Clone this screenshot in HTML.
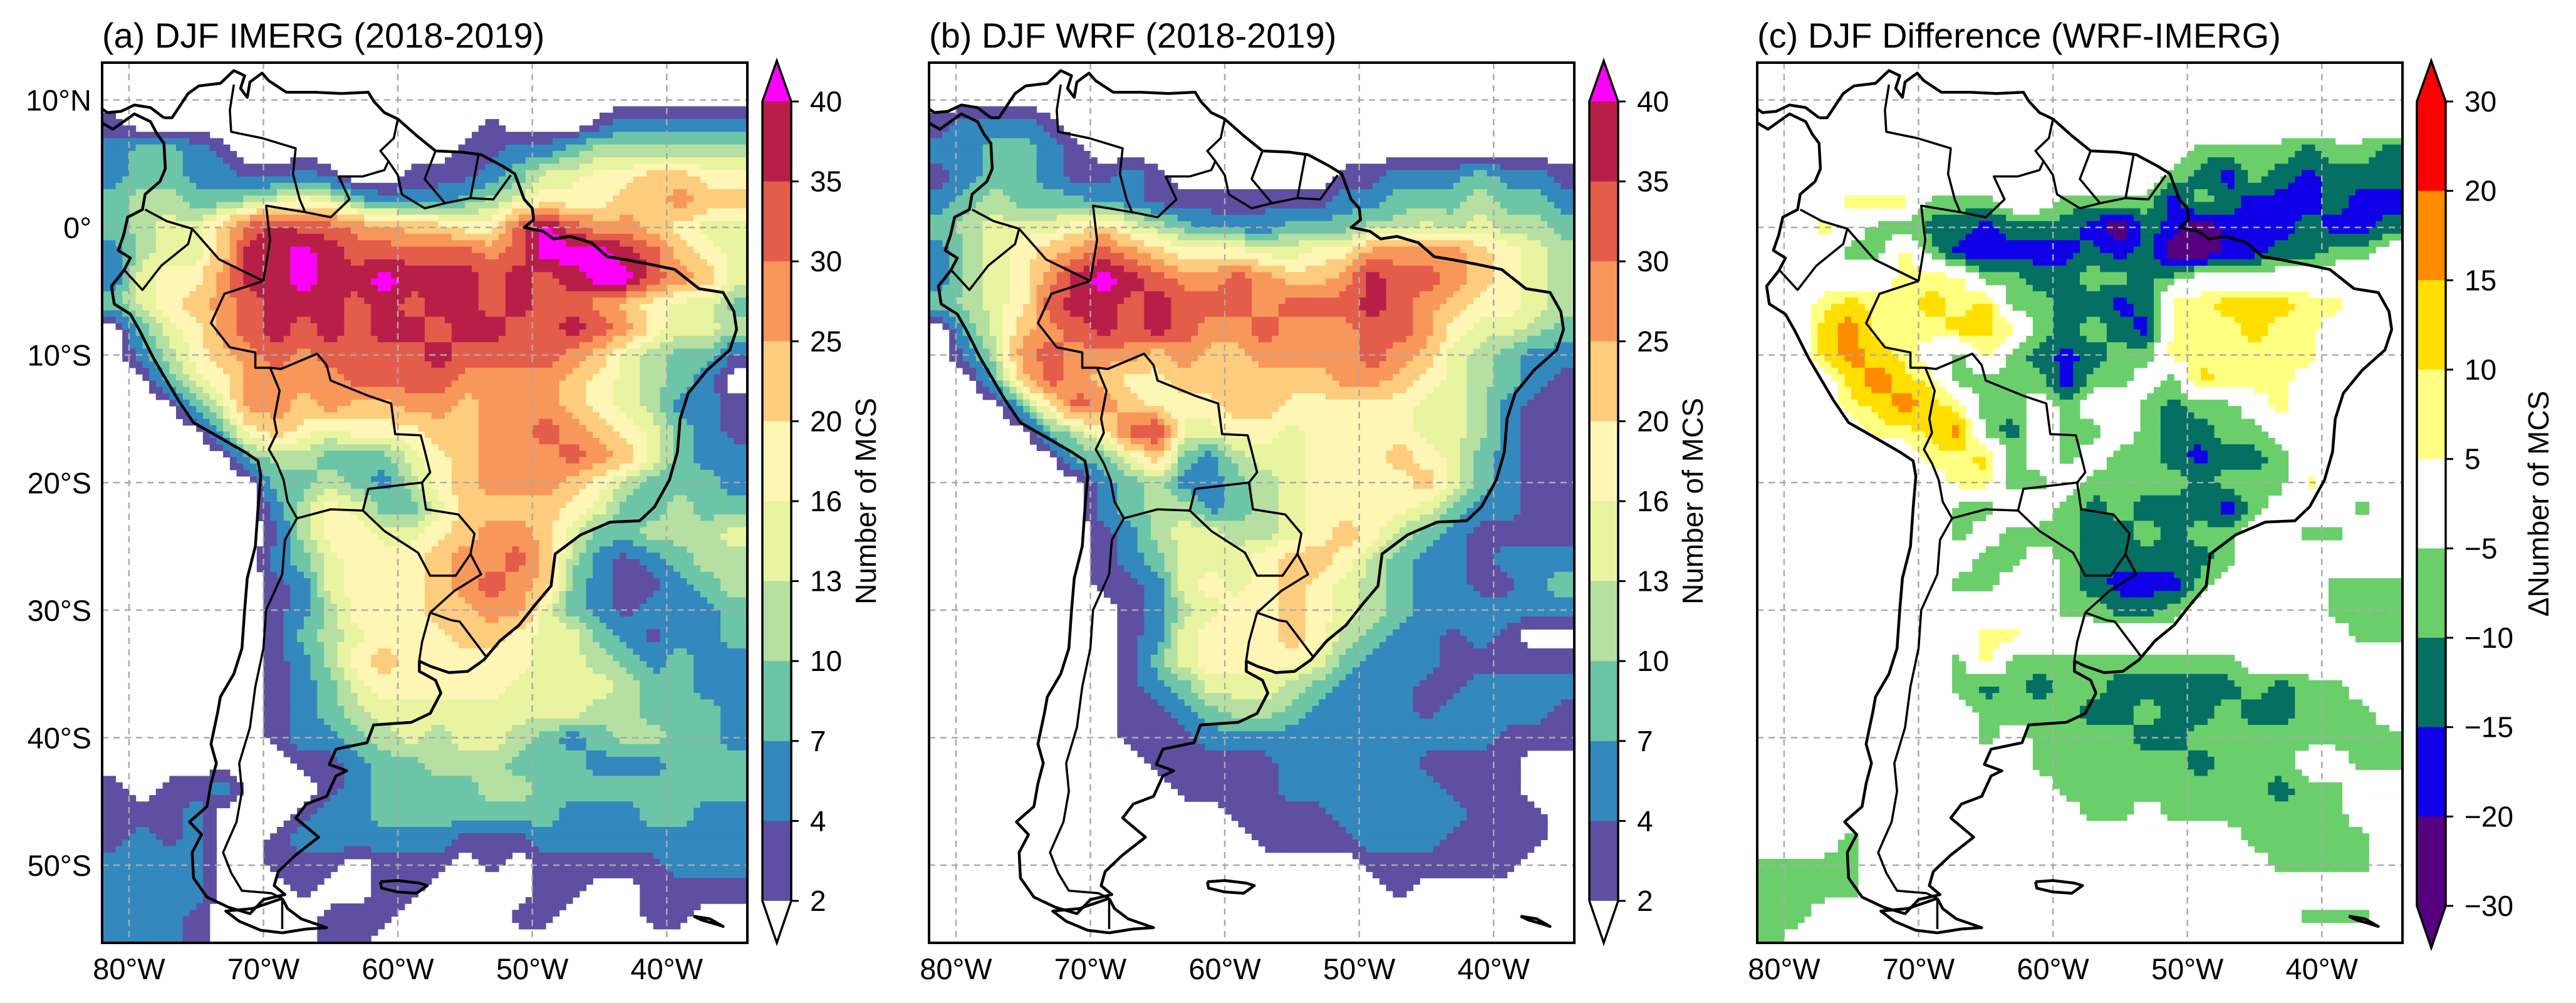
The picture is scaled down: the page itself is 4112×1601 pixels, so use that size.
<!DOCTYPE html>
<html><head><meta charset="utf-8">
<style>
html,body{margin:0;padding:0;background:#fff;}
svg{display:block;font-family:"Liberation Sans",Arial,sans-serif;}
</style></head>
<body>
<svg id="fig" width="4112" height="1601" viewBox="0 0 4112 1601" xmlns="http://www.w3.org/2000/svg">
<rect width="4112" height="1601" fill="#fff"/>
<defs>
<clipPath id="clipA"><rect x="163" y="100" width="1030" height="1405"/></clipPath>
<clipPath id="clipB"><rect x="1483" y="100" width="1030" height="1405"/></clipPath>
<clipPath id="clipC"><rect x="2805" y="100" width="1030" height="1405"/></clipPath>
</defs>
</svg>
<script>
// ---- data: 2-degree grid, rows from lat 12 (top) down to -56, cols lon -81..-35 ----
const gridLats = [12,10,8,6,4,2,0,-2,-4,-6,-8,-10,-12,-14,-16,-18,-20,-22,-24,-26,-28,-30,-32,-34,-36,-38,-40,-42,-44,-46,-48,-50,-52,-54,-56];
const gridLons = [-81,-79,-77,-75,-73,-71,-69,-67,-65,-63,-61,-59,-57,-55,-53,-51,-49,-47,-45,-43,-41,-39,-37,-35];
const imergRows = [
".... .... .... .... .... ....",
".... .... .... .... .... ....",
"1... .... .... ..1. ..12 2222",
"2332 1... .... .112 2344 4444",
"2332 2112 1..1 1123 5566 7766",
"3443 3456 5322 2345 6667 7877",
"3455 79a9 9887 7669 m988 7655",
"2455 7aam a999 9989 mmma 9765",
"2566 8aam aama aa9a 9amm 9875",
"3567 89aa a9a9 aa9a 9987 6553",
".356 89a9 a9aa 9aa9 9a98 6554",
".246 7898 9999 a999 9875 4331",
"..35 6888 8999 9888 8765 432.",
"...3 5887 8778 8788 8765 4221",
".... 3676 5666 7788 9876 5321",
".... .344 3335 6788 8987 5322",
".... ..33 4324 6788 8764 3332",
".... ..24 6533 5777 7653 3433",
".... ..14 6655 6788 7533 4445",
".... ..23 5666 7889 7421 2344",
".... ..12 5666 7898 7321 1234",
".... ..12 4666 7788 5321 2223",
".... ..13 4566 6776 5532 1223",
".... ..12 4676 6666 5543 2322",
".... ..12 3566 6665 5554 3322",
".... ..12 3455 5555 5544 3332",
".... ..12 2345 4554 3234 4332",
".... ...1 1233 4443 3322 2333",
"1.11 2... 1233 3344 3333 3333",
"1112 ...1 2233 3333 3222 3322",
"1212 ..12 2222 2111 2222 2222",
"2222 ..11 1.11 1.1. 1111 1222",
"2222 ...1 ..11 .... 11.. 1111",
"2221 .... 111. ...1 1... 11..",
"2221 .... 11.. .... .... ...."
];
const wrfRows = [
".... .... .... .... .... ....",
".... .... .... .... .... ....",
"1222 1... .... .... .... ....",
"2233 21.. .... .... .... ....",
"1233 2112 1... ...1 1222 3221",
"2343 3322 1111 1112 2333 4332",
"3455 5675 4322 2333 4454 5443",
"2456 7898 7666 5566 8888 7654",
"2456 8ama 9889 8778 a998 7654",
"3456 9aa9 a999 8999 a987 6654",
".357 89a9 a988 9888 9986 5543",
".248 9888 7877 8888 9875 4322",
"..37 9876 6777 7778 8765 4321",
"...3 6987 6667 7666 6655 4211",
".... 3469 a556 6566 6655 4211",
".... .335 7324 5566 6765 3211",
".... ..23 4223 4566 6675 3211",
".... ..23 4423 4566 6653 2211",
".... ..12 4554 4567 6432 1111",
".... ..12 3555 6776 4322 1222",
".... ..11 2565 6765 4322 1123",
".... ...1 2456 6765 4322 2222",
".... ...1 2566 6764 3221 21..",
".... ...1 3566 6653 2221 1111",
".... ...1 2355 5432 2211 2222",
".... ...1 1234 4322 2212 2221",
".... ...1 1122 2222 2222 2111",
".... .... 1111 1222 2211 11..",
".... .... .111 1222 2221 11..",
".... .... ...1 1112 2222 111.",
".... .... .... 1111 2221 111.",
".... .... .... .... 1111 11..",
".... .... .... .... .1.. ....",
".... .... .... .... .... ....",
".... .... .... .... .... ...."
];
const diffRows = [
".... .... .... .... .... ....",
".... .... .... .... .... ....",
".... .... .... .... .... ....",
".... .... .... .... gggg tggt",
".... .... .... ...g tbgt bttt",
"...y yygg g..g gggb gtbb btbb",
"..y. ggtt bttt bptb pbbb tbbt",
"...g gygb bbbb tbtp pbbt tgg.",
".... .yyy ggtt ggtg .... ....",
"..yY yyYy Yggt tbty yYYY yy..",
"..Yo yyyY Yygt gtby yyYy y...",
"..Yo Yy.g ygtb tggy yyyy y...",
"...Y oYyg gggb gg.g Yyyy ....",
"...y YoYy gg.g ..gt gg.y ....",
".... yyYo gt.g g.gt tgg. ....",
".... ..yy Yg.g .ggt bttg ....",
".... ...y ygg. gggg tggg y...",
".... ...g g..g tgtt tbg. ..g.",
".... ...g .ggg ttgt gg.. gg..",
".... .... gg.g tttt tg.. ....",
".... ...g g..g tbbb g... .ggg",
".... .... ...g gttg .... .ggg",
".... .... yy.. .... .... ..gg",
".... ...g yggg gggg gg.. ....",
".... ...g tgtg gttt ttgt gg..",
".... .... gggg ttgt tgtt ggg.",
".... .... g.gg ggtt gggg gggg",
".... .... ..gg gggg tggg ..gg",
".... .... ...g gggg gggt gg..",
".... .... .... gg.g gggg gg..",
"...g .... .... .... ..gg ggg.",
"gggg .... .... .... ...g ggg.",
"gggg .... .... .... .... ....",
"gg.. .... .... .... .... ggg.",
"g... .... .... .... .... ...."
];
const mcsTicks = ["40","35","30","25","20","16","13","10","7","4","2"];
const diffTicks = ["30","20","15","10","5","\u22125","\u221210","\u221215","\u221220","\u221230"];
const latTicks = [10,0,-10,-20,-30,-40,-50];
const latTickLabels = ["10°N","0°","10°S","20°S","30°S","40°S","50°S"];
const lonTicks = [-80,-70,-60,-50,-40];
const lonTickLabels = ["80°W","70°W","60°W","50°W","40°W"];

// ---- code -> representative value, class boundaries, colours ----
const mcsValue = {".":0.5,"1":3,"2":5.5,"3":8.5,"4":11.5,"5":14.5,"6":18,"7":22.5,"8":27.5,"9":32.5,"a":37.5,"m":43};
const mcsBounds = [2,4,7,10,13,16,20,25,30,35,40];
const mcsClassColors = [null,"#5e4fa2","#3388bd","#6cc5a6","#b5e0a2","#e9f4a1","#fef6b4","#fdcc7d","#f8975a","#e45c4a","#b81f48","#ff00ff"];
const diffValue = {".":0,"y":7.5,"Y":12.5,"o":17.5,"r":25,"g":-7.5,"t":-12.5,"b":-17.5,"p":-25};
const diffBounds = [-20,-15,-10,-5,5,10,15,20];
const diffClassColors = ["#55007e","#1000e8","#056f64","#6acf6a",null,"#ffff80","#ffde00","#ff8c00","#ff0000"];
const mcsBarColors = ["#b81f48","#e45c4a","#f8975a","#fdcc7d","#fef6b4","#e9f4a1","#b5e0a2","#6cc5a6","#3388bd","#5e4fa2"];
const diffBarColors = ["#ff0000","#ff8c00","#ffde00","#ffff80","#ffffff","#6acf6a","#056f64","#1000e8","#55007e"];

const NS = "http://www.w3.org/2000/svg";
const svg = document.getElementById('fig');
const Y0 = 100, H = 1405, W = 1030, SUB = 0.5;
const panels = [
  {x0:163, clip:"clipA", rows:imergRows, val:mcsValue, bounds:mcsBounds, cc:mcsClassColors, title:"(a) DJF IMERG (2018-2019)", key:"imerg"},
  {x0:1483, clip:"clipB", rows:wrfRows, val:mcsValue, bounds:mcsBounds, cc:mcsClassColors, title:"(b) DJF WRF (2018-2019)", key:"wrf"},
  {x0:2805, clip:"clipC", rows:diffRows, val:diffValue, bounds:diffBounds, cc:diffClassColors, title:"(c) DJF Difference (WRF-IMERG)", key:"diff"}
];
function el(tag, attrs, parent){const e=document.createElementNS(NS,tag);for(const k in attrs)e.setAttribute(k,attrs[k]);(parent||svg).appendChild(e);return e;}
function lonX(p,lon){return p.x0 + (lon+82)*W/48;}
function latY(lat){return Y0 + (12.92-lat)*20.36;}
function classify(v,b){let k=0;while(k<b.length&&v>=b[k])k++;return k;}

// ---- geography (approximate outlines) ----
const coast = [[-77.4,8.6],[-76.8,8.6],[-75.6,10.5],[-74.8,11.1],[-73.2,11.3],[-72.2,12.3],[-71.4,11.9],[-71.7,10.9],[-71.2,10.2],[-71.0,11.4],[-70.1,12.1],[-69.6,11.5],[-68.3,10.6],[-66.2,10.6],[-64.2,10.5],[-62.2,10.6],[-61.8,9.9],[-61.0,9.0],[-60.0,8.5],[-58.6,7.2],[-57.2,6.0],[-55.2,5.9],[-53.8,5.7],[-52.2,4.8],[-51.3,4.2],[-50.6,2.2],[-50.0,1.5],[-49.9,0.6],[-50.6,0.0],[-49.2,-0.3],[-48.4,-0.9],[-47.2,-0.7],[-45.6,-1.2],[-44.4,-2.3],[-43.2,-2.5],[-41.2,-2.9],[-39.4,-3.3],[-37.6,-4.8],[-35.8,-5.1],[-35.0,-6.6],[-34.8,-8.0],[-35.3,-9.6],[-37.0,-11.2],[-38.4,-13.0],[-39.0,-15.0],[-39.2,-17.6],[-39.8,-19.8],[-40.9,-21.9],[-42.0,-23.0],[-44.2,-23.1],[-46.4,-24.1],[-48.3,-25.6],[-48.6,-28.1],[-49.8,-29.6],[-51.0,-31.2],[-52.4,-32.4],[-53.6,-33.9],[-54.8,-34.8],[-56.2,-34.9],[-57.6,-34.4],[-58.4,-34.0],[-58.4,-34.8],[-57.2,-35.5],[-56.8,-36.5],[-57.6,-38.1],[-59.0,-38.8],[-61.8,-39.0],[-62.3,-40.4],[-64.6,-40.9],[-65.1,-42.1],[-63.8,-42.6],[-64.6,-43.0],[-65.3,-44.6],[-66.8,-45.2],[-67.6,-46.3],[-65.9,-47.8],[-67.6,-49.2],[-68.9,-50.5],[-69.2,-51.6],[-68.4,-52.3],[-70.0,-52.7],[-71.0,-53.8],[-72.6,-53.3],[-74.2,-52.5],[-75.2,-51.0],[-75.3,-49.0],[-74.6,-47.6],[-75.5,-46.6],[-74.2,-45.4],[-73.9,-43.6],[-73.5,-42.0],[-73.9,-40.5],[-73.4,-38.0],[-73.2,-36.8],[-72.2,-35.0],[-71.6,-33.0],[-71.4,-30.0],[-71.2,-27.5],[-70.6,-25.0],[-70.4,-22.0],[-70.2,-19.5],[-70.4,-18.3],[-71.4,-17.6],[-73.2,-16.5],[-75.2,-15.3],[-76.3,-13.6],[-77.2,-12.0],[-78.2,-10.2],[-79.2,-8.1],[-79.9,-6.8],[-81.1,-6.0],[-81.3,-4.6],[-80.4,-3.4],[-79.9,-2.4],[-80.8,-1.8],[-80.4,-0.6],[-80.1,0.8],[-79.0,1.4],[-78.8,2.6],[-77.7,3.6],[-77.3,4.6],[-77.4,6.6],[-77.9,7.3],[-78.4,8.3],[-79.6,8.9],[-80.4,8.3],[-81.2,7.7],[-82.0,8.2]];
const panamaN = [[-77.4,8.6],[-78.4,9.4],[-79.6,9.6],[-80.6,9.1],[-81.6,9.0],[-82.0,9.3]];
const tierra = [[-68.6,-52.6],[-68.2,-53.4],[-67.2,-54.2],[-65.3,-54.9],[-66.8,-55.0],[-68.6,-55.3],[-70.2,-55.1],[-71.8,-54.4],[-72.8,-53.6],[-70.8,-53.4],[-68.6,-52.6]];
const falk = [[-61.3,-51.3],[-60.0,-51.2],[-58.4,-51.4],[-57.8,-51.6],[-58.6,-52.2],[-60.0,-52.1],[-61.2,-51.8],[-61.3,-51.3]];
const sgeorgia = [[-38.0,-54.0],[-36.8,-54.2],[-35.8,-54.8],[-36.4,-54.6],[-37.4,-54.3],[-38.0,-54.0]];
const borders = [
[[-72.2,11.2],[-72.5,9.2],[-72.4,7.5],[-70.1,7.0],[-67.6,6.2],[-67.8,4.2],[-67.3,2.2],[-66.9,1.2]],
[[-66.9,1.2],[-65.0,0.8],[-63.6,2.2],[-64.4,4.0],[-62.6,4.0],[-61.0,4.5],[-60.7,5.2],[-61.3,6.0],[-60.3,7.0],[-60.0,8.5]],
[[-60.7,5.2],[-60.0,4.1],[-59.7,2.6],[-58.0,1.5],[-56.5,1.9],[-54.6,2.3],[-52.9,2.2],[-51.6,4.1]],
[[-57.2,6.0],[-58.0,3.8],[-56.5,1.9]],[[-54.0,5.7],[-54.6,2.3]],
[[-66.9,1.2],[-69.8,1.7],[-69.5,-1.0],[-70.0,-4.2]],
[[-78.8,1.4],[-77.2,0.5],[-75.3,-0.1],[-73.3,-2.5],[-70.0,-4.2]],
[[-80.3,-3.4],[-79.0,-4.9],[-77.6,-3.0],[-75.6,-1.3],[-75.3,-0.1]],
[[-70.0,-4.2],[-72.9,-5.2],[-73.9,-7.5],[-72.5,-9.4],[-70.6,-9.8],[-70.6,-11.0],[-69.5,-11.0]],
[[-69.5,-11.0],[-68.7,-11.1],[-66.0,-9.9],[-65.3,-10.8],[-65.0,-12.0],[-62.2,-13.2],[-60.5,-13.8],[-60.2,-16.2],[-58.3,-16.3],[-58.0,-17.5],[-57.6,-19.2],[-58.2,-20.0]],
[[-69.5,-11.0],[-68.8,-12.8],[-69.2,-15.0],[-69.0,-16.1],[-69.6,-17.4],[-69.0,-18.5],[-68.5,-19.8],[-68.2,-21.5],[-67.5,-22.8]],
[[-58.2,-20.0],[-62.2,-20.5],[-62.6,-22.2],[-65.0,-22.1],[-67.5,-22.8]],
[[-67.5,-22.8],[-68.4,-24.5],[-68.6,-27.2],[-69.8,-30.0],[-70.0,-33.0],[-70.6,-36.0],[-71.0,-39.2],[-71.8,-42.0],[-71.6,-44.2],[-72.0,-46.6],[-73.0,-49.0],[-72.4,-50.6],[-71.6,-52.0],[-69.4,-52.2],[-68.6,-52.6]],
[[-62.6,-22.2],[-61.0,-23.8],[-58.5,-25.5],[-57.6,-27.3],[-55.7,-27.3],[-54.6,-25.6]],
[[-54.6,-25.6],[-54.3,-24.0],[-55.5,-22.5],[-57.9,-22.1],[-58.2,-20.0]],
[[-54.6,-25.6],[-53.8,-27.2],[-55.8,-28.5],[-57.6,-30.2]],
[[-57.6,-30.2],[-56.0,-30.8],[-55.4,-30.9],[-53.4,-33.7]],
[[-57.6,-30.2],[-58.2,-32.5],[-58.4,-33.9]],
[[-68.6,-52.6],[-68.6,-55.0]]
];
function pts(p,arr){return arr.map(a=>lonX(p,a[0]).toFixed(1)+","+latY(a[1]).toFixed(1)).join(" ");}

panels.forEach((p,pi)=>{
  const g = el('g',{'clip-path':'url(#'+p.clip+')'});
  
  
  // numeric grid from data rows
  const grid = p.rows.map(r=>r.replace(/ /g,'').split('').map(ch=>p.val[ch]));
  const nr=grid.length, nc=gridLons.length;
  function sample(lat,lon){
    let fr=(gridLats[0]-lat)/2, fc=(lon-gridLons[0])/2;
    fr=Math.max(0,Math.min(nr-1,fr)); fc=Math.max(0,Math.min(nc-1,fc));
    const r0=Math.floor(fr), c0=Math.floor(fc), r1=Math.min(nr-1,r0+1), c1=Math.min(nc-1,c0+1);
    const dr=fr-r0, dc=fc-c0;
    return grid[r0][c0]*(1-dr)*(1-dc)+grid[r0][c1]*(1-dr)*dc+grid[r1][c0]*dr*(1-dc)+grid[r1][c1]*dr*dc;
  }
  for(let lat=13; lat>-57; lat-=SUB){
    const latc=lat-SUB/2;
    let runStart=null, runCls=null;
    const flush=(endLon)=>{
      if(runCls!==null && p.cc[runCls]){
        const x1=lonX(p,runStart), x2=lonX(p,endLon), y1=latY(lat), y2=latY(lat-SUB);
        const r=el('rect',{x:x1.toFixed(1),y:y1.toFixed(1),width:(x2-x1+0.6).toFixed(1),height:(y2-y1+0.6).toFixed(1),fill:p.cc[runCls]},g);
        
        
      }
    };
    for(let lon=-82; lon<-34; lon+=SUB){
      const cls=classify(sample(latc,lon+SUB/2),p.bounds);
      if(cls!==runCls){flush(lon);runStart=lon;runCls=cls;}
    }
    flush(-34);
  }
  // gridlines
  lonTicks.forEach(lon=>{
    const l=el('line',{x1:lonX(p,lon),x2:lonX(p,lon),y1:Y0,y2:Y0+H,stroke:'#aaa','stroke-width':2.5,'stroke-dasharray':'10,8'},g);
    
    
  });
  latTicks.forEach(lat=>{
    const l=el('line',{x1:p.x0,x2:p.x0+W,y1:latY(lat),y2:latY(lat),stroke:'#aaa','stroke-width':2.5,'stroke-dasharray':'10,8'},g);
    
    
  });
  // coastlines
  const c1=el('polyline',{points:pts(p,coast),fill:'none',stroke:'#000','stroke-width':4.5,'stroke-linejoin':'round'},g);
  
  
  [panamaN,tierra,falk,sgeorgia].forEach(a=>{
    const c=el('polyline',{points:pts(p,a),fill:'none',stroke:'#000','stroke-width':4.5,'stroke-linejoin':'round'},g);
    
    
  });
  borders.forEach(b=>{
    const c=el('polyline',{points:pts(p,b),fill:'none',stroke:'#000','stroke-width':3.5,'stroke-linejoin':'round'},g);
    
    
  });
  // frame
  const fr=el('rect',{x:p.x0,y:Y0,width:W,height:H,fill:'none',stroke:'#000','stroke-width':4});
  
  
  // title
  const t=el('text',{x:p.x0,y:76,'font-size':56,fill:'#000'});
  t.textContent=p.title;
  
  
  // lon tick labels
  lonTicks.forEach((lon,i)=>{
    const tx=el('text',{x:lonX(p,lon),y:1563,'font-size':47,'text-anchor':'middle',fill:'#000'});
    tx.textContent=lonTickLabels[i];
    
    
  });
  if(pi===0){
    latTicks.forEach((lat,i)=>{
      const tx=el('text',{x:146,y:latY(lat)+17,'font-size':47,'text-anchor':'end',fill:'#000'});
      tx.textContent=latTickLabels[i];
      
      
    });
  }
});

// ---- colorbars ----
function colorbar(cx, top, bottom, tipTop, tipBot, colors, ticks, topCol, botCol, label, key, labelX){
  const n=colors.length, bh=(bottom-top)/n, x1=cx, x2=cx+46, mid=cx+23;
  const g=el('g',{});
  
  
  colors.forEach((c,i)=>{
    const r=el('rect',{x:x1,y:top+i*bh,width:46,height:bh+0.5,fill:c},g);
    
    
  });
  const tt=el('polygon',{points:`${x1},${top} ${mid},${tipTop} ${x2},${top}`,fill:topCol},g);
  
  
  const tb=el('polygon',{points:`${x1},${bottom} ${mid},${tipBot} ${x2},${bottom}`,fill:botCol},g);
  
  
  el('polygon',{points:`${x1},${top} ${mid},${tipTop} ${x2},${top} ${x2},${bottom} ${mid},${tipBot} ${x1},${bottom}`,fill:'none',stroke:'#000','stroke-width':3.5},g);
  ticks.forEach((tk,i)=>{
    const y=top+i*bh;
    el('line',{x1:x2,x2:x2+12,y1:y,y2:y,stroke:'#000','stroke-width':3},g);
    const tx=el('text',{x:x2+30,y:y+16,'font-size':46,fill:'#000'},g);
    tx.textContent=tk;
    
    
  });
  const cy=(top+bottom)/2;
  const lb=el('text',{x:labelX,y:cy,'font-size':46,'text-anchor':'middle',transform:`rotate(-90 ${labelX} ${cy})`,fill:'#000'},g);
  lb.textContent=label;
  
  
}
colorbar(1217,162,1438,97,1505,mcsBarColors,mcsTicks,'#ff00ff','#ffffff','Number of MCS','imerg',1398);
colorbar(2537,162,1438,97,1505,mcsBarColors,mcsTicks,'#ff00ff','#ffffff','Number of MCS','wrf',2718);
colorbar(3858,162,1446,97,1513,diffBarColors,diffTicks,'#ff0000','#55007e','\u0394Number of MCS','diff',4068);
</script>
</body></html>
